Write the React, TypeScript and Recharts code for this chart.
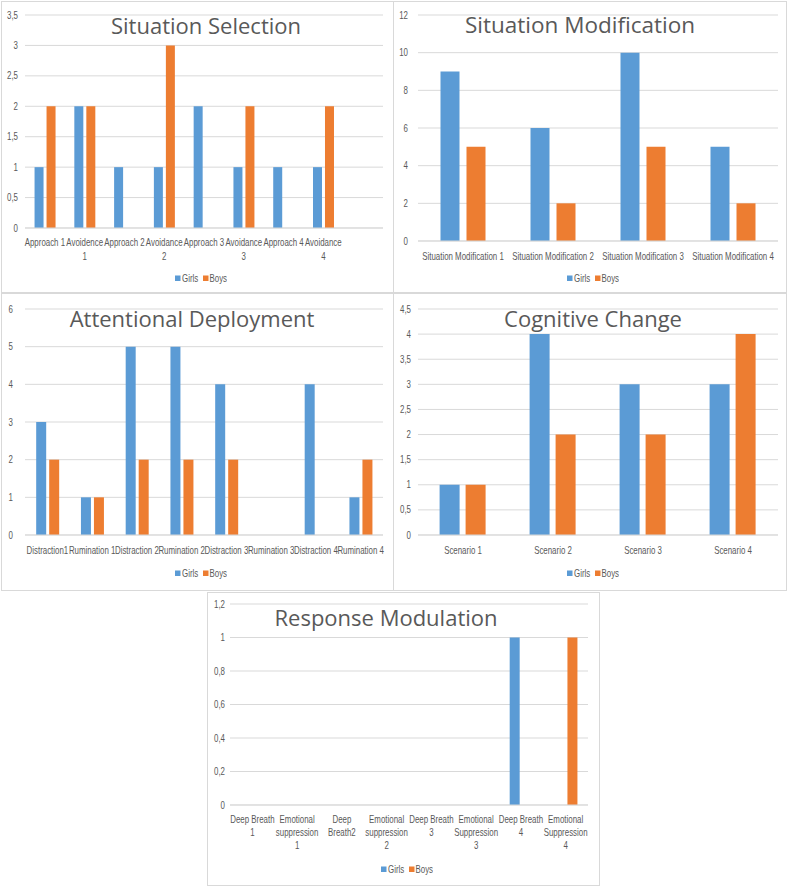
import { BarChart, Bar, XAxis, YAxis, CartesianGrid, Legend } from 'recharts';

const GIRLS = '#5B9BD5';
const BOYS = '#ED7D31';
const TEXT = '#595959';
const GRID = '#d9d9d9';
const TICK_FONT = "'Liberation Sans', Arial, sans-serif";
const TITLE_FONT = "'Open Sans', 'Noto Sans', sans-serif";
const SQUEEZE = 0.79; // fake a narrow face, like Calibri

// Situation Selection (Excel left an empty 9th slot on the axis)
const selectionCats = ['Approach 1', 'Avoidence\n1', 'Approach 2', 'Avoidance\n2', 'Approach 3', 'Avoidance\n3', 'Approach 4', 'Avoidance\n4', ''];
const selectionGirls = [1, 2, 1, 1, 2, 1, 1, 1, null];
const selectionBoys = [2, 2, 0, 3, 0, 2, 0, 2, null];
const selectionTicks = [0, 0.5, 1, 1.5, 2, 2.5, 3, 3.5];

// Situation Modification
const modificationCats = ['Situation Modification 1', 'Situation Modification 2', 'Situation Modification 3', 'Situation Modification 4'];
const modificationGirls = [9, 6, 10, 5];
const modificationBoys = [5, 2, 5, 2];
const modificationTicks = [0, 2, 4, 6, 8, 10, 12];

// Attentional Deployment
const attentionCats = ['Distraction1', 'Rumination 1', 'Distraction 2', 'Rumination 2', 'Distraction 3', 'Rumination 3', 'Distraction 4', 'Rumination 4'];
const attentionGirls = [3, 1, 5, 5, 4, 0, 4, 1];
const attentionBoys = [2, 1, 2, 2, 2, 0, 0, 2];
const attentionTicks = [0, 1, 2, 3, 4, 5, 6];

// Cognitive Change
const cognitiveCats = ['Scenario 1', 'Scenario 2', 'Scenario 3', 'Scenario 4'];
const cognitiveGirls = [1, 4, 3, 3];
const cognitiveBoys = [1, 2, 2, 4];
const cognitiveTicks = [0, 0.5, 1, 1.5, 2, 2.5, 3, 3.5, 4, 4.5];

// Response Modulation
const responseCats = ['Deep Breath\n1', 'Emotional\nsuppression\n1', 'Deep\nBreath2', 'Emotional\nsuppression\n2', 'Deep Breath\n3', 'Emotional\nSuppression\n3', 'Deep Breath\n4', 'Emotional\nSuppression\n4'];
const responseGirls = [0, 0, 0, 0, 0, 0, 1, 0];
const responseBoys = [0, 0, 0, 0, 0, 0, 0, 1];
const responseTicks = [0, 0.2, 0.4, 0.6, 0.8, 1, 1.2];

const toRows = (cats: string[], girls: (number | null)[], boys: (number | null)[]) =>
  cats.map((name, i) => ({ name, Girls: girls[i], Boys: boys[i] }));

const comma = (v: number) => String(v).replace('.', ',');

function CatTick({ x, y, payload, lh }: any) {
  const lines = String(payload.value).split('\n');
  return (
    <text transform={`translate(${x},${y}) scale(${SQUEEZE},1)`} x={0} y={0} textAnchor="middle" fill={TEXT} fontSize={10} fontFamily={TICK_FONT}>
      {lines.map((l, i) => (
        <tspan key={i} x={0} dy={i === 0 ? '0.71em' : lh}>{l}</tspan>
      ))}
    </text>
  );
}

function ValTick({ x, y, payload }: any) {
  return (
    <text transform={`translate(${x},${y}) scale(${SQUEEZE},1)`} x={0} y={0} dy="0.355em" textAnchor="end" fill={TEXT} fontSize={10} fontFamily={TICK_FONT}>
      {comma(payload.value)}
    </text>
  );
}

function LegendBox() {
  const t = (x: number, label: string) => (
    <text transform={`translate(${x},6) scale(${SQUEEZE},1)`} dy="0.355em" fill={TEXT} fontSize={10} fontFamily={TICK_FONT}>{label}</text>
  );
  return (
    <div style={{ display: 'flex', justifyContent: 'center', paddingLeft: 6 }}>
      <svg width={52} height={12}>
        <rect x={0} y={3.5} width={5.5} height={5.5} fill={GIRLS} />
        {t(7, 'Girls')}
        <rect x={28} y={3.5} width={5.5} height={5.5} fill={BOYS} />
        {t(34.5, 'Boys')}
      </svg>
    </div>
  );
}

type PanelProps = {
  title: string; titleSize: number; titleX: number; titleY: number;
  left: number; top: number; width: number; height: number;
  plot: { left: number; right: number; top: number; bottom: number };
  rows: any[]; ticks: number[]; yMargin: number; xMargin: number; lh: number;
  legendTop: number; catGap: string; barGap: number;
};

function Panel(p: PanelProps) {
  return (
    <div style={{ position: 'absolute', left: p.left, top: p.top, width: p.width, height: p.height, outline: '1px solid #d9d9d9', outlineOffset: -1, background: '#fff' }}>
      <BarChart
        width={p.width}
        height={p.height}
        data={p.rows}
        margin={{ top: p.plot.top, right: p.width - p.plot.right, bottom: 0, left: 0 }}
        barCategoryGap={p.catGap}
        barGap={p.barGap}
      >
        <CartesianGrid vertical={false} stroke={GRID} />
        <XAxis
          dataKey="name"
          interval={0}
          tickLine={false}
          tickSize={0}
          tickMargin={p.xMargin}
          axisLine={{ stroke: GRID }}
          height={p.height - p.plot.bottom}
          tick={(props: any) => <CatTick {...props} lh={p.lh} />}
        />
        <YAxis
          width={p.plot.left}
          domain={[0, p.ticks[p.ticks.length - 1]]}
          ticks={p.ticks}
          interval={0}
          axisLine={false}
          tickLine={false}
          tickSize={0}
          tickMargin={p.yMargin}
          tick={(props: any) => <ValTick {...props} />}
        />
        <Legend verticalAlign="middle" content={LegendBox} wrapperStyle={{ top: p.legendTop, left: 0, width: p.width }} />
        <Bar dataKey="Girls" fill={GIRLS} isAnimationActive={false} />
        <Bar dataKey="Boys" fill={BOYS} isAnimationActive={false} />
      </BarChart>
      <div style={{ position: 'absolute', left: p.titleX, top: p.titleY, transform: 'translate(-50%, -50%)', whiteSpace: 'nowrap', fontFamily: TITLE_FONT, fontSize: p.titleSize, color: TEXT, lineHeight: 1 }}>
        {p.title}
      </div>
    </div>
  );
}

export default function App() {
  return (
    <div style={{ position: 'absolute', left: 0, top: 0, width: 789, height: 888, background: '#fff' }}>
      <Panel
        title="Situation Selection" titleSize={22} titleX={205} titleY={24}
        left={1} top={1} width={393} height={292}
        plot={{ left: 24, right: 382, top: 14, bottom: 227 }}
        rows={toRows(selectionCats, selectionGirls, selectionBoys)} ticks={selectionTicks}
        yMargin={7} xMargin={11} lh={14} legendTop={271} catGap="24%" barGap={3}
      />
      <Panel
        title="Situation Modification" titleSize={22.5} titleX={187} titleY={24}
        left={393} top={1} width={394} height={292}
        plot={{ left: 25, right: 385, top: 14, bottom: 240 }}
        rows={toRows(modificationCats, modificationGirls, modificationBoys)} ticks={modificationTicks}
        yMargin={10} xMargin={12} lh={14} legendTop={271} catGap="25%" barGap={7}
      />
      <Panel
        title="Attentional Deployment" titleSize={22} titleX={191} titleY={25}
        left={1} top={293} width={393} height={298}
        plot={{ left: 24, right: 382, top: 16, bottom: 242 }}
        rows={toRows(attentionCats, attentionGirls, attentionBoys)} ticks={attentionTicks}
        yMargin={12} xMargin={12} lh={14} legendTop={274} catGap="25%" barGap={3}
      />
      <Panel
        title="Cognitive Change" titleSize={22} titleX={200} titleY={25}
        left={393} top={293} width={394} height={298}
        plot={{ left: 25, right: 385, top: 16, bottom: 242 }}
        rows={toRows(cognitiveCats, cognitiveGirls, cognitiveBoys)} ticks={cognitiveTicks}
        yMargin={7} xMargin={12} lh={14} legendTop={274} catGap="24%" barGap={6}
      />
      <Panel
        title="Response Modulation" titleSize={22} titleX={179} titleY={25}
        left={207} top={592} width={393} height={294}
        plot={{ left: 23, right: 381, top: 12, bottom: 213 }}
        rows={toRows(responseCats, responseGirls, responseBoys)} ticks={responseTicks}
        yMargin={5} xMargin={11} lh={13} legendTop={271} catGap="25%" barGap={3}
      />
    </div>
  );
}
